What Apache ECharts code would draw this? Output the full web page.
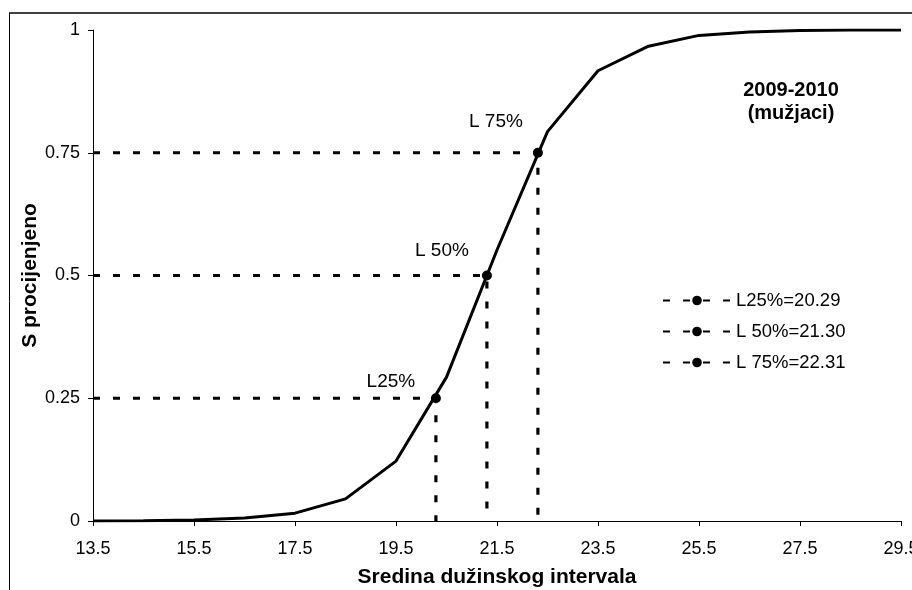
<!DOCTYPE html>
<html><head><meta charset="utf-8">
<script src="https://cdn.jsdelivr.net/npm/echarts@6/dist/echarts.min.js"></script>
<style>html,body{margin:0;padding:0;background:#fff}#c{width:912px;height:590px}</style>
</head><body><div id="c"></div>
<script>
// ---- data ----
const lengthMid = [13.5, 14.5, 15.5, 16.5, 17.5, 18.5, 19.5, 20.5, 21.5, 22.5, 23.5, 24.5, 25.5, 26.5, 27.5, 28.5, 29.5];
const sEstimated = [0, 0.0005, 0.002, 0.006, 0.016, 0.045, 0.122, 0.293, 0.552, 0.793, 0.917, 0.967, 0.989, 0.996, 0.999, 1, 1];
const xTicks = [13.5, 15.5, 17.5, 19.5, 21.5, 23.5, 25.5, 27.5, 29.5];
const yTicks = [0, 0.25, 0.5, 0.75, 1];
const levelLabels = ['L25%', 'L 50%', 'L 75%'];
const levelProb = [0.25, 0.5, 0.75];
const levelLength = [20.29, 21.30, 22.31];
const legendNames = ['L25%=20.29', 'L 50%=21.30', 'L 75%=22.31'];
const annotationLines = ['2009-2010', '(mužjaci)'];
const xName = 'Sredina dužinskog intervala';
const yName = 'S procijenjeno';

// ---- chart ----
const FONT = 'Liberation Sans, Arial, sans-serif';
const labelOffsets = [[-45, 3], [-45, -5], [-42, -11]];
const chart = echarts.init(document.getElementById('c'), null, {renderer: 'canvas'});

const levelSeries = levelLength.map((L, i) => ({
  type: 'line',
  name: legendNames[i],
  symbol: 'circle',
  symbolSize: 10,
  z: 2,
  itemStyle: {color: '#000'},
  lineStyle: {color: '#000', width: 3.2, type: [7, 13]},
  animation: false,
  data: [
    {value: [xTicks[0], levelProb[i]], symbol: 'none'},
    {value: [L, levelProb[i]], label: {show: true, formatter: levelLabels[i], position: 'top', offset: labelOffsets[i], fontSize: 19, color: '#000', fontFamily: FONT}},
    {value: [L, yTicks[0]], symbol: 'none'}
  ]
}));

const option = {
  backgroundColor: '#fff',
  animation: false,
  grid: {left: 93, right: 11, top: 30, bottom: 69, containLabel: false, outerBoundsMode: 'none'},
  xAxis: {
    type: 'value', min: xTicks[0], max: xTicks[xTicks.length - 1],
    name: xName, nameLocation: 'middle', nameGap: 46,
    nameTextStyle: {fontSize: 21, fontWeight: 'bold', color: '#000', fontFamily: FONT},
    axisLine: {lineStyle: {color: '#000', width: 1}},
    axisTick: {show: true, length: 5, lineStyle: {color: '#000'}, customValues: xTicks},
    axisLabel: {customValues: xTicks, fontSize: 18, color: '#000', fontFamily: FONT, margin: 19, formatter: v => String(v)},
    splitLine: {show: false}
  },
  yAxis: {
    type: 'value', min: yTicks[0], max: yTicks[yTicks.length - 1], interval: 0.25,
    name: yName, nameLocation: 'middle', nameGap: 52, nameRotate: 90, nameMoveOverlap: false,
    nameTextStyle: {fontSize: 21, fontWeight: 'bold', color: '#000', fontFamily: FONT},
    axisLine: {show: true, lineStyle: {color: '#000', width: 1}},
    axisTick: {show: true, length: 5, lineStyle: {color: '#000'}},
    axisLabel: {fontSize: 18, color: '#000', fontFamily: FONT, margin: 13},
    splitLine: {show: false}
  },
  legend: {
    orient: 'vertical', left: 657, top: 286,
    data: legendNames,
    itemWidth: 68, itemHeight: 12, itemGap: 12,
    textStyle: {fontSize: 18.5, color: '#000', fontFamily: FONT},
    selectedMode: false
  },
  graphic: [
    {type: 'line', shape: {x1: 9, y1: 13, x2: 912, y2: 13}, style: {stroke: '#404040', lineWidth: 2}, silent: true},
    {type: 'line', shape: {x1: 9.5, y1: 13, x2: 9.5, y2: 590}, style: {stroke: '#000', lineWidth: 1}, silent: true},
    {type: 'text', x: 791, y: 90, style: {text: annotationLines[0], fontSize: 20, fontWeight: 'bold', fill: '#000', fontFamily: FONT, textAlign: 'center', textVerticalAlign: 'middle'}},
    {type: 'text', x: 791, y: 113, style: {text: annotationLines[1], fontSize: 20, fontWeight: 'bold', fill: '#000', fontFamily: FONT, textAlign: 'center', textVerticalAlign: 'middle'}}
  ],
  series: [
    {
      type: 'line', name: 'curve', z: 3,
      symbol: 'none',
      lineStyle: {color: '#000', width: 3},
      data: lengthMid.map((x, i) => [x, sEstimated[i]])
    }
  ].concat(levelSeries)
};
chart.setOption(option);
</script>
</body></html>
